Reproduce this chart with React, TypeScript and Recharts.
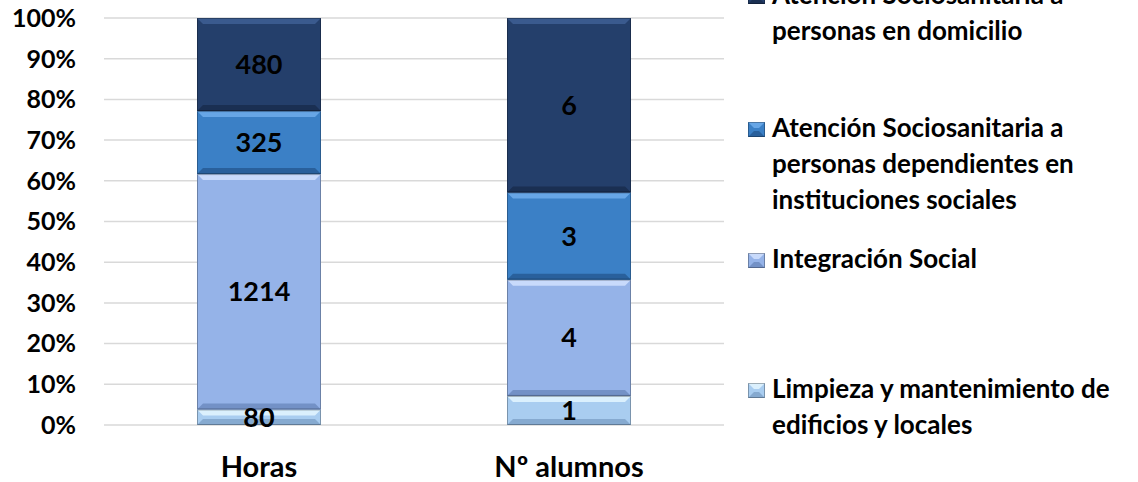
import React from "react";
import {
  BarChart,
  Bar,
  XAxis,
  YAxis,
  CartesianGrid,
  Legend,
  LabelList,
} from "recharts";

// categories on the x axis
const categories = ["Horas", "Nº alumnos"];

// series values (same order as categories)
const limpieza = [80, 1];
const integracion = [1214, 4];
const dependientes = [325, 3];
const domicilio = [480, 6];

// y axis ticks (share of the stack)
const percentTicks = [0, 0.1, 0.2, 0.3, 0.4, 0.5, 0.6, 0.7, 0.8, 0.9, 1];

// legend labels, split the way the reference wraps them
const legendLines: Record<string, string[]> = {
  domicilio: ["Atención Sociosanitaria a", "personas en domicilio"],
  dependientes: [
    "Atención Sociosanitaria a",
    "personas dependientes en",
    "instituciones sociales",
  ],
  integracion: ["Integración Social"],
  limpieza: ["Limpieza y mantenimiento de", "edificios y locales"],
};

const data = categories.map((name, i) => ({
  name,
  limpieza: limpieza[i],
  integracion: integracion[i],
  dependientes: dependientes[i],
  domicilio: domicilio[i],
}));

const FONT = "Lato, 'Open Sans', sans-serif";

type Pal = { base: string; light: string; dark: string };

const palette: Record<string, Pal> = {
  limpieza: { base: "#a9cdf0", light: "#dbf0fd", dark: "#86aad0" },
  integracion: { base: "#95b3e8", light: "#c8dafb", dark: "#7391c6" },
  dependientes: { base: "#3b80c6", light: "#67a6e6", dark: "#29609c" },
  domicilio: { base: "#243f6b", light: "#3a5a8e", dark: "#1a2f52" },
};

// stacking order, bottom to top
const seriesOrder = ["limpieza", "integracion", "dependientes", "domicilio"];
// legend order, top to bottom
const legendOrder = ["domicilio", "dependientes", "integracion", "limpieza"];

// first-line baseline (px) of each legend entry, top to bottom
const legendBaselines = [4, 137, 268, 398];
const LEGEND_LINE = 36;
const LEGEND_FONT = 26;

function BevelBar(props: any) {
  const { x, y, width, height, pal } = props as {
    x: number;
    y: number;
    width: number;
    height: number;
    pal: Pal;
  };
  if (!height || height <= 0) return null;
  const d = Math.min(6, height / 2, width / 2);
  const r = x + width;
  const b = y + height;
  return (
    <g>
      <rect x={x} y={y} width={width} height={height} fill={pal.base} />
      <polygon
        points={`${x},${y} ${r},${y} ${r - d},${y + d} ${x + d},${y + d}`}
        fill={pal.light}
      />
      <polygon
        points={`${x},${b} ${r},${b} ${r - d},${b - d} ${x + d},${b - d}`}
        fill={pal.dark}
      />
      <rect
        x={x + 0.5}
        y={y + 0.5}
        width={width - 1}
        height={height - 1}
        fill="none"
        stroke="rgba(0,0,0,0.28)"
        strokeWidth={1}
      />
    </g>
  );
}

function LegendMarker({ pal }: { pal: Pal }) {
  return (
    <svg width={17} height={15} style={{ display: "block" }}>
      <BevelBar x={0} y={0} width={17} height={15} pal={pal} />
    </svg>
  );
}

function renderLegend(props: any) {
  const payload: any[] = props.payload || [];
  const byKey: Record<string, any> = {};
  payload.forEach((p) => {
    byKey[String(p.dataKey)] = p;
  });
  const baselineOffset =
    (LEGEND_LINE - LEGEND_FONT * 1.2) / 2 + LEGEND_FONT * 0.987;
  return (
    <div style={{ position: "relative", width: 398, height: 482 }}>
      {legendOrder
        .filter((key) => byKey[key])
        .map((key, i) => (
          <div
            key={key}
            style={{
              position: "absolute",
              left: 0,
              top: legendBaselines[i] - baselineOffset,
              width: 398,
            }}
          >
            <div
              style={{
                position: "absolute",
                left: 8,
                top: baselineOffset - 15,
              }}
            >
              <LegendMarker pal={palette[key]} />
            </div>
            <div
              style={{
                marginLeft: 32,
                fontFamily: FONT,
                fontWeight: 700,
                fontSize: LEGEND_FONT,
                lineHeight: `${LEGEND_LINE}px`,
                color: "#000",
                whiteSpace: "nowrap",
              }}
            >
              {legendLines[key].map((line) => (
                <div key={line}>{line}</div>
              ))}
            </div>
          </div>
        ))}
    </div>
  );
}

export default function App() {
  return (
    <div style={{ position: "absolute", left: 0, top: 0, background: "#fff" }}>
      <BarChart
        width={1138}
        height={482}
        data={data}
        stackOffset="expand"
        barCategoryGap="30%"
        margin={{ top: 18, right: 16, bottom: 0, left: 0 }}
      >
        <CartesianGrid
          vertical={false}
          stroke="#d9d9d9"
          strokeWidth={1.5}
        />
        <XAxis
          dataKey="name"
          height={57}
          axisLine={false}
          tickLine={false}
          tickSize={0}
          tickMargin={31}
          tick={{
            fill: "#000",
            fontSize: 29,
            fontWeight: 700,
            fontFamily: FONT,
          }}
        />
        <YAxis
          width={104}
          domain={[0, 1]}
          ticks={percentTicks}
          tickFormatter={(v: number) => `${Math.round(v * 100)}%`}
          axisLine={false}
          tickLine={false}
          tickSize={0}
          tickMargin={28}
          tick={{
            fill: "#000",
            fontSize: 25,
            fontWeight: 700,
            fontFamily: FONT,
          }}
        />
        <Legend
          layout="vertical"
          align="right"
          verticalAlign="top"
          width={398}
          height={482}
          wrapperStyle={{ left: 740, top: 0, right: "auto" }}
          content={renderLegend}
        />
        {seriesOrder.map((key) => (
          <Bar
            key={key}
            dataKey={key}
            name={legendLines[key].join(" ")}
            stackId="a"
            fill={palette[key].base}
            isAnimationActive={false}
            shape={(p: any) => <BevelBar {...p} pal={palette[key]} />}
          >
            <LabelList
              dataKey={key}
              position="center"
              fill="#000"
              fontSize={27}
              fontWeight={700}
              fontFamily={FONT}
            />
          </Bar>
        ))}
      </BarChart>
    </div>
  );
}
